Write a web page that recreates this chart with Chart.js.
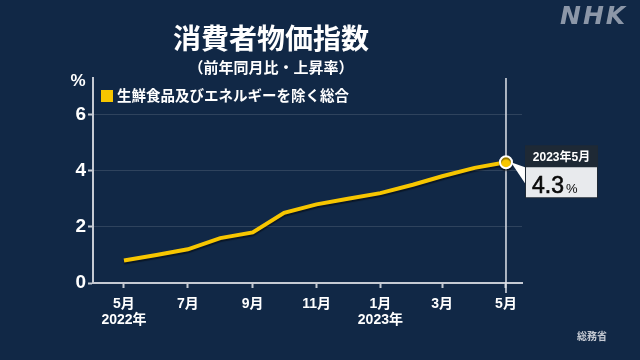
<!DOCTYPE html>
<html>
<head>
<meta charset="utf-8">
<script src="https://cdn.jsdelivr.net/npm/chart.js@4.4.0/dist/chart.umd.min.js"></script>
<style>
  html, body { margin: 0; padding: 0; background: #112846; }
  #wrap { position: relative; width: 640px; height: 360px; }
</style>
</head>
<body>
<div id="wrap"><canvas id="cpiChart" width="640" height="360"></canvas></div>
<script>
// ========================================
// CPI chart (core-core, YoY)
// ========================================

// Data
const months = ['2022-05', '2022-06', '2022-07', '2022-08', '2022-09', '2022-10', '2022-11',
                '2022-12', '2023-01', '2023-02', '2023-03', '2023-04', '2023-05'];
const values = [0.8, 1.0, 1.2, 1.6, 1.8, 2.5, 2.8, 3.0, 3.2, 3.5, 3.8, 4.1, 4.3];
const tickMonths = ['2022-05', '2022-07', '2022-09', '2022-11', '2023-01', '2023-03', '2023-05'];
const tickLabels = [['5月', '2022年'], ['7月'], ['9月'], ['11月'], ['1月', '2023年'], ['3月'], ['5月']];
const yTicks = [0, 2, 4, 6];
const seriesName = '生鮮食品及びエネルギーを除く総合';
const titleText = '消費者物価指数';
const subtitleText = '（前年同月比・上昇率）';
const sourceText = '総務省';

const FONT = "'Liberation Sans', 'Noto Sans CJK JP', sans-serif";
const YELLOW = '#f7c600';
const AXIS = '#c5cad3';

// days since first month, so the axis spacing follows the calendar
function dayOf(m) {
  const [y, mo] = m.split('-').map(Number);
  return (Date.UTC(y, mo - 1, 1) - Date.UTC(2022, 4, 1)) / 86400000;
}

const points = months.map((m, i) => ({ x: dayOf(m), y: values[i] }));
const last = values.length - 1;

// Decorations: title, legend, unit, callout, logo
const decorPlugin = {
  id: 'decor',
  beforeDatasetsDraw(chart) {
    const ctx = chart.ctx;
    const pt = chart.getDatasetMeta(0).data[last];
    ctx.save();
    ctx.strokeStyle = '#dfe3ea';
    ctx.lineWidth = 1.5;
    ctx.beginPath();
    ctx.moveTo(pt.x, 78);
    ctx.lineTo(pt.x, 293);
    ctx.stroke();
    ctx.restore();
  },
  // soft shadow under line
  beforeDatasetDraw(chart) {
    const ctx = chart.ctx;
    ctx.save();
    ctx.shadowColor = 'rgba(0,0,0,0.45)';
    ctx.shadowOffsetY = 2;
    ctx.shadowBlur = 1;
  },
  afterDatasetDraw(chart) {
    chart.ctx.restore();
  },
  afterDraw(chart) {
    const ctx = chart.ctx;
    const area = chart.chartArea;
    ctx.save();
    ctx.fillStyle = '#ffffff';
    ctx.textBaseline = 'middle';
    ctx.textAlign = 'center';

    // title
    ctx.font = `bold 28px ${FONT}`;
    ctx.fillText(titleText, 271, 41);
    ctx.font = `bold 15px ${FONT}`;
    ctx.fillText(subtitleText, 271, 69);

    // unit
    ctx.font = `bold 17px ${FONT}`;
    ctx.fillText('%', 78, 81);

    // legend
    ctx.fillStyle = YELLOW;
    ctx.fillRect(area.left + 8, 90, 12, 12);
    ctx.fillStyle = '#ffffff';
    ctx.textAlign = 'left';
    ctx.font = `bold 14.5px ${FONT}`;
    ctx.fillText(seriesName, area.left + 24, 97);

    // callout for last value
    const pt = chart.getDatasetMeta(0).data[last];
    const px = pt.x, py = pt.y;
    const bx = px + 19;
    ctx.fillStyle = '#ffffff';
    ctx.beginPath();
    ctx.moveTo(px + 5, py);
    ctx.lineTo(bx, py + 5);
    ctx.lineTo(bx, py + 21);
    ctx.closePath();
    ctx.fill();

    ctx.fillStyle = '#1e2935';
    ctx.fillRect(bx, py - 17, 73, 53);
    ctx.fillStyle = '#e8eaed';
    ctx.fillRect(bx + 1, py + 5, 71, 30);

    const [ly, lm] = months[last].split('-').map(Number);
    ctx.fillStyle = '#ffffff';
    ctx.textAlign = 'center';
    ctx.font = `bold 12px ${FONT}`;
    ctx.fillText(`${ly}年${lm}月`, bx + 36.5, py - 5);

    ctx.fillStyle = '#0a0a0a';
    ctx.textAlign = 'left';
    ctx.textBaseline = 'alphabetic';
    ctx.font = `23px ${FONT}`;
    const valText = values[last].toFixed(1);
    ctx.fillText(valText, bx + 7, py + 31);
    ctx.strokeStyle = '#0a0a0a';
    ctx.lineWidth = 0.6;
    ctx.strokeText(valText, bx + 7, py + 31);
    const w = ctx.measureText(valText).width;
    ctx.font = `13px ${FONT}`;
    ctx.fillText('%', bx + 9 + w, py + 31);

    // NHK logo
    ctx.fillStyle = '#8c97a8';
    ctx.font = `italic bold 25px 'DejaVu Sans', ${FONT}`;
    ctx.textBaseline = 'middle';
    ctx.letterSpacing = '2px';
    ctx.fillText('NHK', 560, 17);
    ctx.letterSpacing = '0px';

    // source
    ctx.fillStyle = '#c5cad3';
    ctx.font = `bold 10px ${FONT}`;
    ctx.fillText(sourceText, 577, 337);
    ctx.restore();
  }
};

const chart = new Chart(document.getElementById('cpiChart'), {
  type: 'line',
  data: {
    datasets: [{
      label: seriesName,
      data: points,
      borderColor: YELLOW,
      borderWidth: 4,
      backgroundColor: YELLOW,
      pointRadius: values.map((v, i) => (i === last ? 6 : 0)),
      pointBorderColor: '#ffffff',
      pointBorderWidth: 2,
      pointBackgroundColor: YELLOW,
      tension: 0
    }]
  },
  options: {
    responsive: false,
    animation: false,
    layout: { padding: { left: 0, right: 118, top: 78, bottom: 0 } },
    plugins: {
      legend: { display: false },
      tooltip: { enabled: false }
    },
    scales: {
      x: {
        type: 'linear',
        min: -29.6,
        max: 380.3,
        afterBuildTicks: scale => {
          scale.ticks = tickMonths.map(m => ({ value: dayOf(m) }));
        },
        afterFit: scale => { scale.height = 77; },
        grid: {
          drawOnChartArea: false,
          tickLength: 5,
          tickColor: AXIS,
          tickWidth: 2
        },
        border: { color: AXIS, width: 2 },
        ticks: {
          autoSkip: false,
          maxRotation: 0,
          padding: 8,
          color: '#ffffff',
          font: { family: FONT, size: 14, weight: 'bold', lineHeight: 1.15 },
          callback: (val, i) => tickLabels[i]
        }
      },
      y: {
        min: 0,
        max: 7.3,
        afterBuildTicks: scale => {
          scale.ticks = yTicks.map(v => ({ value: v }));
        },
        afterFit: scale => { scale.width = 93; },
        grid: {
          color: 'rgba(255,255,255,0.13)',
          lineWidth: 1,
          tickLength: 5,
          tickColor: AXIS,
          tickWidth: 2
        },
        border: { color: AXIS, width: 2 },
        ticks: {
          padding: 2,
          color: '#ffffff',
          font: { family: FONT, size: 19, weight: 'bold' }
        }
      }
    }
  },
  plugins: [decorPlugin]
});
</script>
</body>
</html>
